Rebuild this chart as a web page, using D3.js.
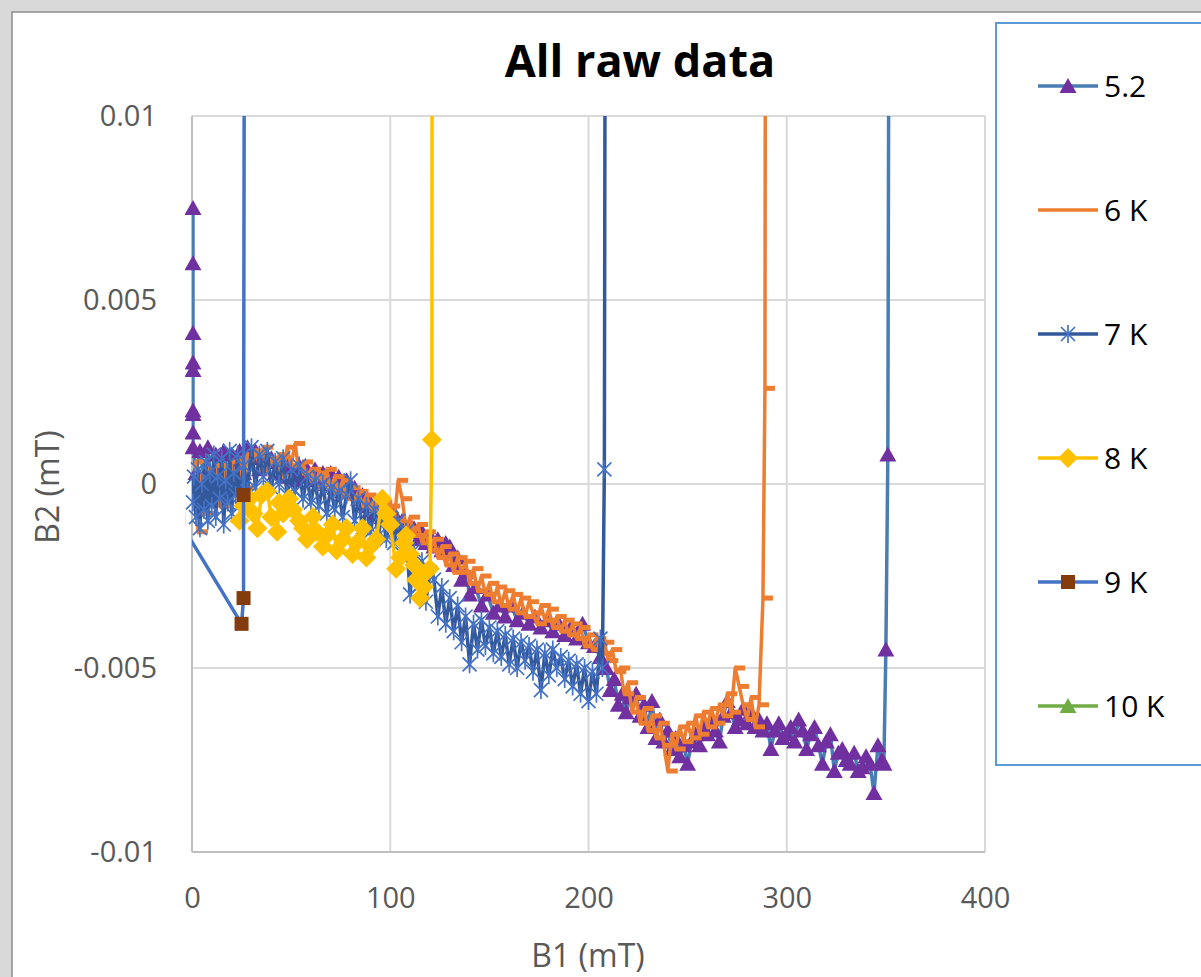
<!DOCTYPE html>
<html><head><meta charset="utf-8">
<script src="https://cdn.jsdelivr.net/npm/d3@7"></script>
<style>html,body{margin:0;padding:0;background:#d9d9d9;overflow:hidden}</style>
</head><body>
<svg id="c" width="1201" height="977"></svg>
<script>
// ---------- DATA ----------
const seriesNames = ["5.2","6 K","7 K","8 K","9 K","10 K"];
const xTicks = [0,100,200,300,400];
const xTickLabels = ["0","100","200","300","400"];
const yTicks = [-0.01,-0.005,0,0.005,0.01];
const yTickLabels = ["-0.01","-0.005","0","0.005","0.01"];

const data52 = [[0.5,0.0075],[0.5,0.0060],[0.5,0.0041],[0.5,0.0033],[0.5,0.0031],[0.5,0.0020],[0.5,0.0019],[0.5,0.0014],[0.5,0.0010],
[2,0.0003],[4,0.0009],[6,0.0002],[8,0.0010],[10,-0.0002],[12,0.0008],[14,0.0004],[16,0.0009],[18,0.0001],[20,0.0008],[22,0.0005],[24,0.0009],[26,0.0003],[28,0.0010],[30,0.0007],[32,0.0009],[34,0.0004],[36,0.0008],[38,0.0006],[40,0.0007],[42,0.0003],[44,0.0006],[46,0.0002],[48,0.0005],[50,0.0004],[52,0.0001],[54,0.0005],[56,0.0002],[58,0.0004],[60,0.0001],[62,0.0004],[64,0.0000],[66,0.0003],[68,0.0001],[70,0.0003],[72,-0.0001],[74,0.0002],[76,-0.0002],[78,0.0001],[80,-0.0002],[82,-0.0001],[84,-0.0004],[86,-0.0003],[88,-0.0006],[90,-0.0005],[92,-0.0008],[94,-0.0006],[96,-0.0009],[98,-0.0007],[100,-0.0010],[102,-0.0008],[104,-0.0011],[106,-0.0010],[108,-0.0013],[110,-0.0011],[112,-0.0012],[114,-0.0015],[116,-0.0013],[118,-0.0016],[120,-0.0014],[122,-0.0017],[124,-0.0015],[126,-0.0018],[128,-0.0016],[130,-0.0017],[132,-0.0022],[134,-0.0020],[136,-0.0026],[138,-0.0024],[140,-0.0030],[143,-0.0028],[146,-0.0033],[149,-0.0030],[152,-0.0035],[155,-0.0033],[158,-0.0036],[161,-0.0033],[164,-0.0037],[167,-0.0035],[170,-0.0038],[173,-0.0036],[176,-0.0039],[179,-0.0037],[182,-0.0040],[185,-0.0038],[188,-0.0041],[191,-0.0039],[194,-0.0042],[197,-0.0038],[200,-0.0043],
[203,-0.0044],[206,-0.0047],[209,-0.0050],[211,-0.0056],[213,-0.0053],[215,-0.0060],[217,-0.0057],[219,-0.0062],[221,-0.0058],[224,-0.0057],[226,-0.0063],[228,-0.0060],[230,-0.0066],[232,-0.0059],[234,-0.0069],[236,-0.0064],[238,-0.0070],[240,-0.0067],[242,-0.0072],[244,-0.0069],[246,-0.0074],[248,-0.0071],[250,-0.0076],[252,-0.0070],[254,-0.0068],[256,-0.0071],[258,-0.0066],[260,-0.0068],[262,-0.0064],[264,-0.0067],[266,-0.0070],[268,-0.0063],[270,-0.0059],[272,-0.0062],[274,-0.0066],[276,-0.0064],[278,-0.0061],[280,-0.0065],[282,-0.0062],[284,-0.0066],[286,-0.0064],[288,-0.0067],[290,-0.0065],[292,-0.0072],[294,-0.0067],[296,-0.0065],[298,-0.0069],[300,-0.0068],[302,-0.0066],[304,-0.0070],[306,-0.0064],[308,-0.0067],[310,-0.0072],[312,-0.0068],[314,-0.0066],[316,-0.0071],[318,-0.0076],[320,-0.0070],[322,-0.0068],[324,-0.0078],[326,-0.0073],[328,-0.0072],[330,-0.0075],[332,-0.0076],[334,-0.0073],[336,-0.0078],[338,-0.0077],[340,-0.0074],[342,-0.0076],[344,-0.0084],[346,-0.0071],[348,-0.0075],[349,-0.0076],[350,-0.0045],[351,0.0008],[353,0.05]];

const data6K = [[1,-0.0004],[2,0.0006],[3,-0.0013],[4,0.0002],[6,-0.0008],[8,0.0004],[10,-0.0003],[12,0.0005],[14,-0.0006],[16,0.0003],[18,-0.0002],[20,0.0006],[22,0.0001],[24,0.0007],[26,-0.0001],[28,0.0008],[30,0.0004],[32,0.0009],[34,0.0005],[36,0.0010],[38,0.0003],[40,0.0007],[42,0.0004],[44,0.0008],[46,0.0002],[48,0.0010],[50,0.0005],[52,0.0011],[54,0.0003],[56,0.0006],[58,0.0001],[60,0.0004],[62,-0.0001],[64,0.0003],[66,0.0000],[68,0.0004],[70,-0.0002],[72,0.0002],[74,-0.0003],[76,0.0001],[78,-0.0004],[80,-0.0001],[82,-0.0005],[84,-0.0002],[86,-0.0006],[88,-0.0003],[90,-0.0007],[92,-0.0004],[94,-0.0008],[96,-0.0005],[98,-0.0009],[100,-0.0006],[102,-0.0010],[104,0.0001],[106,-0.0004],[108,-0.0012],[110,-0.0009],[112,-0.0014],[114,-0.0011],[116,-0.0016],[118,-0.0013],[120,-0.0018],[122,-0.0015],[124,-0.0020],[126,-0.0017],[128,-0.0022],[130,-0.0019],[132,-0.0024],[134,-0.0020],[136,-0.0024],[138,-0.0021],[140,-0.0027],[142,-0.0023],[144,-0.0029],[146,-0.0025],[148,-0.0030],[150,-0.0027],[152,-0.0032],[154,-0.0028],[156,-0.0033],[158,-0.0029],[160,-0.0034],[162,-0.0030],[164,-0.0035],[166,-0.0031],[168,-0.0036],[170,-0.0032],[172,-0.0035],[174,-0.0038],[176,-0.0033],[178,-0.0037],[180,-0.0034],[182,-0.0039],[184,-0.0036],[186,-0.0040],[188,-0.0037],[190,-0.0041],[192,-0.0038],[194,-0.0042],[196,-0.0039],[198,-0.0044],[200,-0.0041],[202,-0.0045],[204,-0.0042],[206,-0.0046],[208,-0.0043],[210,-0.0048],[212,-0.0045],[214,-0.0051],[216,-0.0050],[218,-0.0057],[220,-0.0054],[222,-0.0062],[224,-0.0058],[226,-0.0065],[228,-0.0061],[230,-0.0067],[232,-0.0063],[234,-0.0069],[236,-0.0065],[238,-0.0071],[240,-0.0078],[242,-0.0068],[244,-0.0072],[246,-0.0066],[248,-0.0070],[250,-0.0065],[252,-0.0069],[254,-0.0063],[256,-0.0068],[258,-0.0062],[260,-0.0066],[262,-0.0061],[264,-0.0065],[266,-0.0060],[268,-0.0063],[270,-0.0057],[272,-0.0062],[274,-0.0050],[276,-0.0055],[278,-0.0060],[280,-0.0064],[282,-0.0058],[284,-0.0066],[286,-0.0060],[288,-0.0031],[289,0.0026],[290,0.05]];

const data7K = [[0.5,-0.0005],[1,0.0002],[2,-0.0009],[3,0.0004],[4,-0.0012],[5,0.0000],[6,-0.0007],[7,0.0006],[8,-0.0010],[9,0.0003],[10,-0.0006],[11,0.0008],[12,-0.0009],[13,0.0002],[14,-0.0004],[15,0.0007],[16,-0.0011],[17,0.0001],[18,-0.0005],[19,0.0009],[20,-0.0008],[21,0.0003],[22,-0.0003],[23,0.0008],[24,-0.0006],[26,0.0005],[28,-0.0002],[30,0.0010],[32,-0.0001],[34,0.0008],[36,0.0002],[38,0.0009],[40,-0.0001],[42,0.0006],[44,0.0000],[46,0.0007],[48,-0.0003],[50,0.0004],[52,-0.0002],[54,0.0005],[56,-0.0004],[58,0.0002],[60,-0.0005],[62,0.0001],[64,-0.0006],[66,0.0000],[68,-0.0008],[70,-0.0001],[72,-0.0007],[74,-0.0002],[76,-0.0009],[78,-0.0003],[80,0.0001],[82,-0.0010],[84,-0.0004],[86,-0.0012],[88,-0.0006],[90,-0.0013],[92,-0.0007],[94,-0.0014],[96,-0.0008],[98,-0.0015],[100,-0.0009],[102,-0.0016],[104,-0.0010],[106,-0.0019],[108,-0.0013],[110,-0.0030],[112,-0.0018],[114,-0.0028],[116,-0.0021],[118,-0.0032],[120,-0.0024],[122,-0.0026],[124,-0.0036],[126,-0.0028],[128,-0.0038],[130,-0.0031],[132,-0.0040],[134,-0.0033],[136,-0.0043],[138,-0.0036],[140,-0.0049],[142,-0.0038],[144,-0.0045],[146,-0.0037],[148,-0.0044],[150,-0.0039],[152,-0.0046],[154,-0.0040],[156,-0.0047],[158,-0.0041],[160,-0.0049],[162,-0.0042],[164,-0.0050],[166,-0.0043],[168,-0.0048],[170,-0.0044],[172,-0.0051],[174,-0.0045],[176,-0.0056],[178,-0.0046],[180,-0.0052],[182,-0.0045],[184,-0.0050],[186,-0.0047],[188,-0.0053],[190,-0.0048],[192,-0.0055],[194,-0.0049],[196,-0.0057],[198,-0.0050],[200,-0.0059],[202,-0.0051],[204,-0.0057],[206,-0.0042],[207,-0.0050],[208,0.0004],[209.5,0.05]];

const data8K = [[24,-0.0010],[26,-0.0006],[29,-0.0004],[31,-0.0008],[33,-0.0012],[35,-0.0003],[38,-0.0002],[40,-0.0009],[43,-0.0013],[44,-0.0005],[46,-0.0008],[49,-0.0004],[51,-0.0007],[54,-0.0010],[56,-0.0012],[58,-0.0015],[61,-0.0009],[63,-0.0013],[66,-0.0017],[68,-0.0014],[71,-0.0011],[73,-0.0018],[76,-0.0015],[78,-0.0012],[81,-0.0019],[83,-0.0016],[86,-0.0012],[88,-0.0020],[90,-0.0017],[93,-0.0015],[96,-0.0004],[98,-0.0008],[100,-0.0011],[103,-0.0023],[105,-0.0020],[107,-0.0016],[108,-0.0014],[110,-0.0019],[112,-0.0022],[113,-0.0026],[115,-0.0031],[117,-0.0028],[118,-0.0024],[120,-0.0023],[121,0.0012],[121.5,0.05]];

const data9K = [[-7,-0.00095],[25,-0.0038],[26,-0.0031],[26,-0.0003],[27.5,0.05]];

const data10K = [];

// ---------- STYLES ----------
const lineColors = ["#4a7db4","#ed7d31","#34589c","#ffc000","#4472c4","#70ad47"];
const markerColors = ["#7030a0","#ed7d31","#4472c4","#ffc000","#843c0c","#70ad47"];
const markerTypes = ["tri","dash","star","diamond","square","tri"];
const allData = [data52,data6K,data7K,data8K,data9K,data10K];

const svg = d3.select("#c");
const W = 1201, H = 977;
svg.append("rect").attr("x",12).attr("y",12).attr("width",W).attr("height",H)
  .attr("fill","#fff").attr("stroke","#8c8c8c").attr("stroke-width",1.5);

const x = d3.scaleLinear().domain([0,400]).range([192,985]);
const y = d3.scaleLinear().domain([-0.01,0.01]).range([852,116]);

// grid
const grid = svg.append("g");
grid.selectAll(".hg").data(yTicks.filter(d=>d>-0.01)).join("line")
  .attr("x1",x(0)).attr("x2",x(400)).attr("y1",d=>y(d)).attr("y2",d=>y(d))
  .attr("stroke","#d9d9d9").attr("stroke-width",2);
grid.selectAll(".vg").data(xTicks.filter(d=>d>0)).join("line")
  .attr("x1",d=>x(d)).attr("x2",d=>x(d)).attr("y1",y(0.01)).attr("y2",y(-0.01))
  .attr("stroke","#d9d9d9").attr("stroke-width",2);
grid.append("line").attr("x1",x(0)).attr("x2",x(400)).attr("y1",y(-0.01)).attr("y2",y(-0.01)).attr("stroke","#bfbfbf").attr("stroke-width",2);
grid.append("line").attr("x1",x(0)).attr("x2",x(0)).attr("y1",y(0.01)).attr("y2",y(-0.01)).attr("stroke","#bfbfbf").attr("stroke-width",2);

// tick labels via axes
const fontFam = "'Open Sans', 'DejaVu Sans', sans-serif";
const yAxis = svg.append("g").attr("transform",`translate(${x(0)},0)`)
  .call(d3.axisLeft(y).tickValues(yTicks).tickFormat((d,i)=>yTickLabels[i]).tickSize(0).tickPadding(35));
const xAxis = svg.append("g").attr("transform",`translate(0,${y(-0.01)})`)
  .call(d3.axisBottom(x).tickValues(xTicks).tickFormat((d,i)=>xTickLabels[i]).tickSize(0).tickPadding(35));
[yAxis,xAxis].forEach(a=>{
  a.select(".domain").remove();
  a.selectAll("text").attr("font-family",fontFam).attr("font-size",29).attr("fill","#595959");
});

// title & axis titles
svg.append("text").attr("x",640).attr("y",77).attr("text-anchor","middle")
  .attr("font-family",fontFam).attr("font-weight","bold").attr("font-size",45).attr("fill","#000").text("All raw data");
svg.append("text").attr("x",588).attr("y",967).attr("text-anchor","middle")
  .attr("font-family",fontFam).attr("font-size",32).attr("fill","#595959").text("B1 (mT)");
svg.append("text").attr("transform","translate(59,487) rotate(-90)").attr("text-anchor","middle")
  .attr("font-family",fontFam).attr("font-size",32).attr("fill","#595959").text("B2 (mT)");

// clips: lines exactly at plot area, markers with a small margin
svg.append("clipPath").attr("id","lineclip").append("rect")
  .attr("x",x(0)).attr("y",y(0.01)).attr("width",x(400)-x(0)).attr("height",y(-0.01)-y(0.01));
svg.append("clipPath").attr("id","markclip").append("rect")
  .attr("x",x(0)-7).attr("y",y(0.01)).attr("width",x(400)-x(0)+14).attr("height",y(-0.01)-y(0.01));

function drawMarker(g, type, color){
  if(type==="tri") g.append("path").attr("d","M0,-8L8.5,7L-8.5,7Z").attr("fill",color);
  else if(type==="dash") g.append("rect").attr("x",-1).attr("y",-2.5).attr("width",11).attr("height",5).attr("fill",color);
  else if(type==="star") g.append("path").attr("d","M-7,-7L7,7M-7,7L7,-7M0,-9L0,9").attr("stroke",color).attr("stroke-width",1.7).attr("fill","none");
  else if(type==="diamond") g.append("path").attr("d","M0,-10L10,0L0,10L-10,0Z").attr("fill",color);
  else if(type==="square") g.append("rect").attr("x",-7).attr("y",-7).attr("width",14).attr("height",14).attr("fill",color);
}

const plot = svg.append("g");
const line = d3.line().x(d=>x(d[0])).y(d=>y(d[1]));
allData.forEach((data,i)=>{
  const g = plot.append("g");
  if(data.length){
    g.append("path").datum(data).attr("d",line).attr("fill","none").attr("clip-path","url(#lineclip)")
      .attr("stroke",lineColors[i]).attr("stroke-width",3.5).attr("stroke-linejoin","round");
  }
  const mg = g.append("g").attr("clip-path","url(#markclip)");
  data.forEach(d=>{
    const m = mg.append("g").attr("transform",`translate(${x(d[0])},${y(d[1])})`);
    drawMarker(m, markerTypes[i], markerColors[i]);
  });
});

// legend
const lg = svg.append("g");
lg.append("rect").attr("x",996).attr("y",23).attr("width",260).attr("height",742)
  .attr("fill","#fff").attr("stroke","#5b9bd5").attr("stroke-width",2);
const ly = d3.scaleLinear().domain([0,5]).range([86,706]);
seriesNames.forEach((name,i)=>{
  const yy = ly(i);
  lg.append("line").attr("x1",1038).attr("x2",1098).attr("y1",yy).attr("y2",yy)
    .attr("stroke",lineColors[i]).attr("stroke-width",3.5);
  if(markerTypes[i]!=="dash"){
    const m = lg.append("g").attr("transform",`translate(1068,${yy})`);
    drawMarker(m, markerTypes[i], markerColors[i]);
  }
  lg.append("text").attr("x",1104).attr("y",yy).attr("dy","0.35em")
    .attr("font-family",fontFam).attr("font-size",30).attr("fill","#000").text(name);
});
</script>
</body></html>
